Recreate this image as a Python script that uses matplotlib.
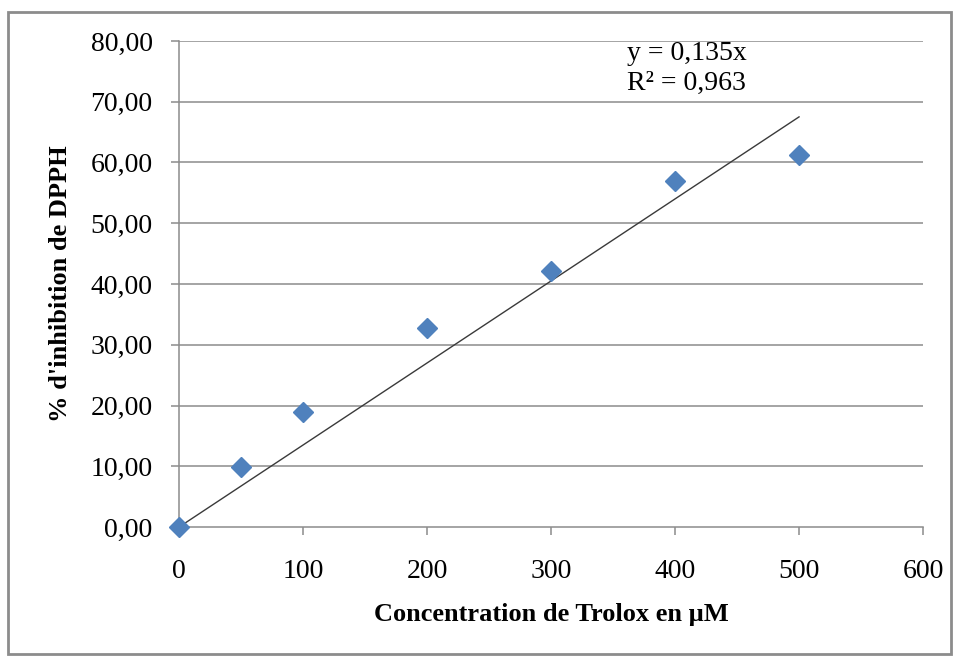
import matplotlib.pyplot as plt
from matplotlib.patches import Rectangle
from matplotlib.ticker import FuncFormatter

# Trolox concentration (uM) and % DPPH inhibition
concentration = [0, 50, 100, 200, 300, 400, 500]
inhibition = [0.0, 9.9, 18.9, 32.7, 42.1, 57.0, 61.2]
slope = 0.135
r2 = 0.963

x_ticks = [0, 100, 200, 300, 400, 500, 600]
y_ticks = [0, 10, 20, 30, 40, 50, 60, 70, 80]

plt.rcParams['font.family'] = ['Liberation Serif', 'DejaVu Serif']

fig = plt.figure(figsize=(9.59, 6.58), dpi=100)
ax = fig.add_axes([0.1867, 0.199, 0.7758, 0.7388])

grid_col = '#8c8c8c'
for y in y_ticks[1:]:
    ax.axhline(y, color=grid_col, lw=1.1, zorder=1)

# trend line through the origin
trend_x = [0, concentration[-1]]
trend_y = [slope * v for v in trend_x]
ax.plot(trend_x, trend_y, color='#3a3a3a', lw=1.0, zorder=2)

ax.plot(concentration, inhibition, linestyle='none', marker='D', markersize=10,
        color='#4f81bd', markeredgecolor='#4f81bd', zorder=3, clip_on=False)

ax.set_xlim(0, 600)
ax.set_ylim(0, 80)
ax.set_xticks(x_ticks)
ax.set_yticks(y_ticks)
ax.yaxis.set_major_formatter(FuncFormatter(lambda v, p: f'{v:.2f}'.replace('.', ',')))

for side in ['top', 'right']:
    ax.spines[side].set_visible(False)
for side in ['left', 'bottom']:
    ax.spines[side].set_color(grid_col)
    ax.spines[side].set_linewidth(1.1)

ax.tick_params(axis='y', length=6, width=1.1, color=grid_col, labelsize=20, pad=13)
ax.tick_params(axis='x', length=6, width=1.1, color=grid_col, labelsize=20, pad=17)

ax.set_xlabel('Concentration de Trolox en µM', fontsize=19, fontweight='bold', labelpad=14)
ax.set_ylabel("% d'inhibition de DPPH", fontsize=19, fontweight='bold', labelpad=13)

ax.text(627 / 959, 1 - 53 / 658, f'y = {slope:.3f}x'.replace('.', ','), transform=fig.transFigure,
        fontsize=20, ha='left', va='center')
ax.text(627 / 959, 1 - 83 / 658, f'R² = {r2:.3f}'.replace('.', ','), transform=fig.transFigure,
        fontsize=20, ha='left', va='center')

# chart frame
fig.patches.append(Rectangle((8 / 959, 4 / 658), 943 / 959, 642 / 658, transform=fig.transFigure,
                             fill=False, edgecolor='#8c8c8c', lw=2))

fig.savefig('out.png', dpi=100)
